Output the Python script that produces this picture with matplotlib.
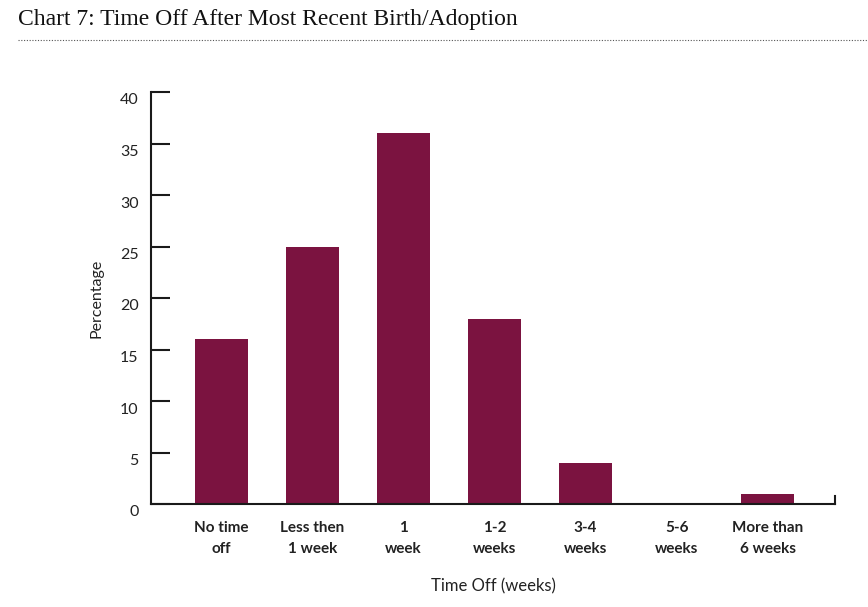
import matplotlib.pyplot as plt
import matplotlib.transforms as mtransforms
import numpy as np

categories = ['No time\noff', 'Less then\n1 week', '1\nweek', '1-2\nweeks',
              '3-4\nweeks', '5-6\nweeks', 'More than\n6 weeks']
values = [16, 25, 36, 18, 4, 0, 1]
yticks = [0, 5, 10, 15, 20, 25, 30, 35, 40]

bar_color = '#7b1340'
sans = ['Lato', 'DejaVu Sans']

fig = plt.figure(figsize=(8.68, 6.07), dpi=100)
ax = fig.add_axes([151/868, 1-504/607, (835-151)/868, (504-92)/607])

x = np.arange(len(categories))
ax.bar(x, values, width=0.58, color=bar_color)

ax.set_xlim(-0.775, 6.74)
ax.set_ylim(0, 40)
ax.set_xticks(x)
ax.set_xticklabels(categories, fontsize=11, fontweight='bold', family=sans,
                   color='#222222', linespacing=1.65)
ax.set_yticks(yticks)
ax.set_yticklabels([str(v) for v in yticks], fontsize=11.5, family=sans, color='#222222')
ax.tick_params(axis='x', length=0, pad=12)
ax.tick_params(axis='y', direction='in', length=13.5, width=1.5, pad=9, color='#1a1a1a')

# labels sit a little below their ticks in the original
offset = mtransforms.ScaledTranslation(0, -0.07, fig.dpi_scale_trans)
for lab in ax.get_yticklabels():
    lab.set_transform(lab.get_transform() + offset)

for side in ['top', 'right']:
    ax.spines[side].set_visible(False)
for side in ['left', 'bottom']:
    ax.spines[side].set_linewidth(1.5)
    ax.spines[side].set_color('#1a1a1a')
ax.plot([1, 1], [0, 0.02], transform=ax.transAxes, color='#1a1a1a', lw=1.5,
        clip_on=False)

ax.set_ylabel('Percentage', fontsize=11.5, family=sans, color='#222222', labelpad=12)
ax.set_xlabel('Time Off (weeks)', fontsize=12, family=sans, color='#222222', labelpad=16)

fig.text(18/868, 1-20/607, 'Chart 7: Time Off After Most Recent Birth/Adoption',
         fontsize=17, family=['Liberation Serif', 'DejaVu Serif'], color='#111111',
         va='center', ha='left')
fig.add_artist(plt.Line2D([18/868, 1.0], [1-40/607, 1-40/607], transform=fig.transFigure,
                          color='#555555', lw=0.8, linestyle=(0, (1, 1.5))))

fig.savefig('out.png', dpi=100)
